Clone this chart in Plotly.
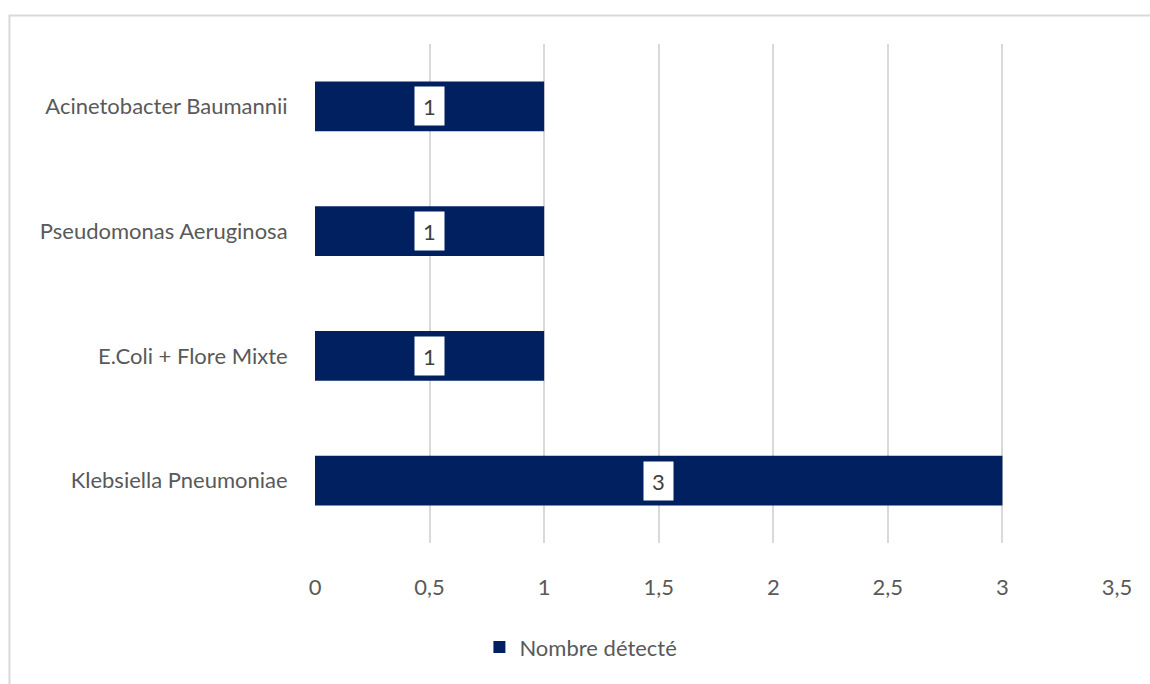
import plotly.graph_objects as go

# Bacterial species and detection counts
categories = [
    "Klebsiella Pneumoniae",
    "E.Coli + Flore Mixte",
    "Pseudomonas Aeruginosa",
    "Acinetobacter Baumannii",
]
counts = [3, 1, 1, 1]
series_name = "Nombre détecté"
x_ticks = [0, 0.5, 1, 1.5, 2, 2.5, 3, 3.5]
x_tick_labels = ["0", "0,5", "1", "1,5", "2", "2,5", "3", "3,5"]

BAR_COLOR = "#002060"
GRID_COLOR = "#d9d9d9"
TEXT_COLOR = "#595959"
FONT = "Lato"
FONT_SIZE = 22

fig = go.Figure()
fig.add_trace(go.Bar(
    x=counts,
    y=categories,
    orientation="h",
    name=series_name,
    marker=dict(color=BAR_COLOR, line=dict(width=0)),
    showlegend=True,
))

# Value labels in white boxes at the middle of each bar
for cat, val in zip(categories, counts):
    fig.add_annotation(
        x=val / 2, y=cat, xref="x", yref="y",
        text=str(val), showarrow=False,
        bgcolor="white", width=27, height=36, borderpad=1,
        font=dict(family=FONT, size=FONT_SIZE, color="#404040"),
    )

# Outer chart border
fig.add_shape(
    type="rect", xref="paper", yref="paper",
    x0=-0.381, x1=1.06, y0=-0.35, y1=1.057,
    line=dict(color=GRID_COLOR, width=2), fillcolor="rgba(0,0,0,0)",
    layer="below",
)

fig.update_layout(
    width=1150, height=684,
    margin=dict(l=315, r=33, t=43.5, b=140.5),
    paper_bgcolor="white", plot_bgcolor="white",
    font=dict(family=FONT, size=FONT_SIZE, color=TEXT_COLOR),
    bargap=0.6,
    xaxis=dict(
        range=[0, 3.5], tickvals=x_ticks, ticktext=x_tick_labels,
        showgrid=True, gridcolor=GRID_COLOR, gridwidth=2,
        zeroline=False, showline=False,
        ticks="outside", ticklen=25, tickcolor="rgba(0,0,0,0)",
        fixedrange=True,
    ),
    yaxis=dict(
        categoryorder="array", categoryarray=categories,
        showgrid=False, zeroline=False, showline=False,
        ticks="outside", ticklen=22, tickcolor="rgba(0,0,0,0)",
        fixedrange=True,
    ),
    legend=dict(
        orientation="h", x=0.205, y=-0.209, xanchor="left", yanchor="middle",
        font=dict(family=FONT, size=FONT_SIZE, color=TEXT_COLOR),
        itemwidth=30,
    ),
)

fig.write_html("out.html")
